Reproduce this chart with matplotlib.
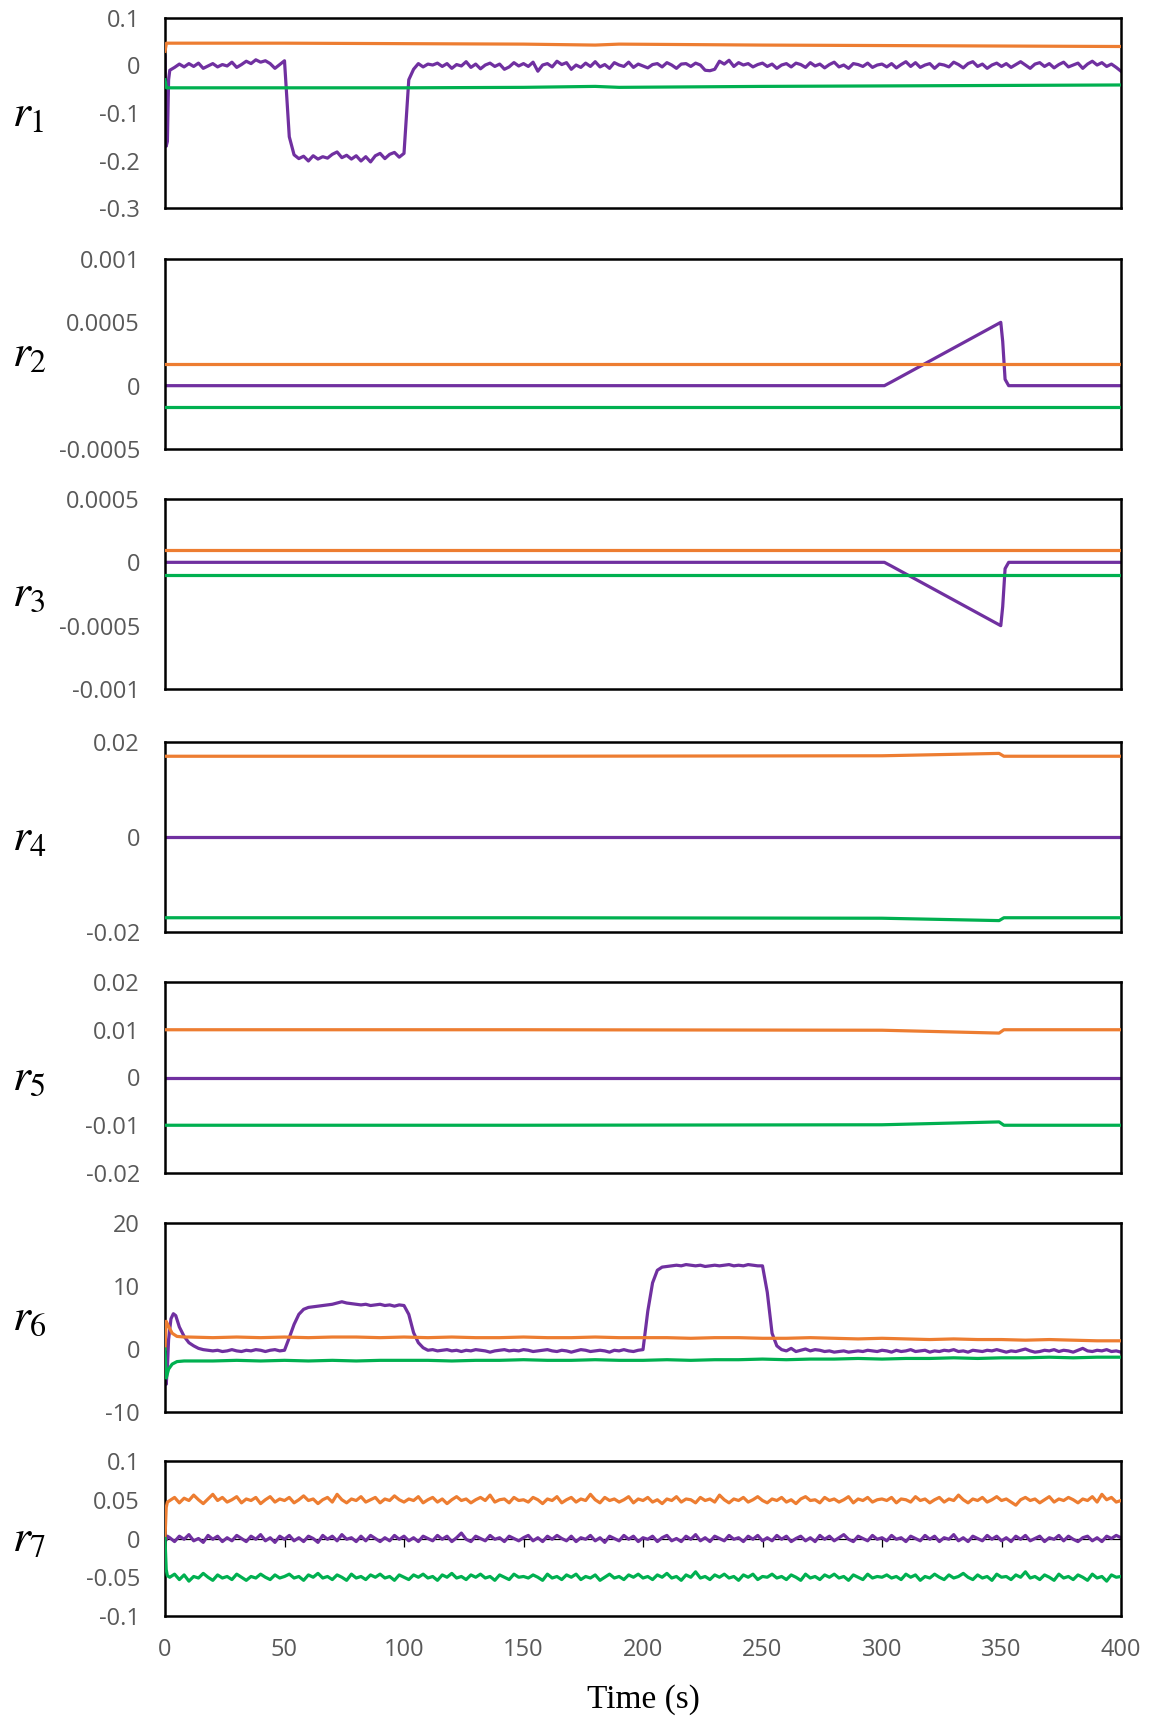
import numpy as np
import matplotlib
matplotlib.use("Agg")
import matplotlib.pyplot as plt

plt.rcParams['mathtext.fontset'] = 'stix'

# ---------------- data ----------------
C_PURPLE = "#7030A0"
C_ORANGE = "#ED7D31"
C_GREEN = "#00B050"

x_ticks = [0, 50, 100, 150, 200, 250, 300, 350, 400]
x_tick_labels = ["0", "50", "100", "150", "200", "250", "300", "350", "400"]
row_labels = [r"$r_1$", r"$r_2$", r"$r_3$", r"$r_4$", r"$r_5$", r"$r_6$", r"$r_7$"]

# r1
r1_purple_t = np.concatenate([[0, 0.5, 1.0, 1.5], np.arange(2, 401, 2)])
r1_purple = [0.02, -0.17, -0.16, -0.03,
    -0.010, -0.004, 0.003, -0.003, 0.004, -0.002, 0.005, -0.006, -0.001, 0.004, -0.003, 0.002, -0.001, 0.007, -0.004, 0.002, 0.009, 0.004, 0.012, 0.007, 0.010, 0.004, -0.006, 0.002, 0.010,
    -0.150, -0.188, -0.196, -0.191, -0.201, -0.190, -0.197, -0.192, -0.195, -0.187, -0.182, -0.194, -0.189, -0.197, -0.190, -0.201, -0.192, -0.203, -0.190, -0.185, -0.196, -0.187, -0.183, -0.193, -0.185,
    -0.030, -0.008, 0.004, -0.003, 0.003, 0.001, 0.005, -0.002, 0.004, -0.006, 0.002, -0.001, 0.008, -0.004, 0.003, -0.007, 0.001, 0.005, -0.002, 0.003, -0.008, -0.003, 0.006, -0.001, 0.004,
    -0.002, 0.007, -0.012, 0.001, 0.004, -0.003, 0.009, 0.002, 0.006, -0.008, 0.001, -0.004, 0.005, -0.002, 0.008, -0.003, 0.002, -0.006, 0.006, 0.001, -0.002, 0.007, -0.004, 0.003, -0.001,
    -0.005, 0.002, 0.004, -0.003, 0.006, 0.001, -0.006, 0.003, 0.004, -0.002, 0.005, 0.001, -0.010, -0.011, -0.008, 0.009, 0.003, 0.011, -0.002, 0.006, 0.001, 0.004, -0.003, 0.002, 0.005,
    -0.002, 0.003, -0.006, 0.001, 0.004, -0.003, 0.005, 0.002, -0.004, 0.006, -0.001, 0.003, -0.005, 0.002, 0.007, -0.003, 0.001, -0.006, 0.004, 0.002, -0.002, 0.005, -0.004, 0.001, 0.003,
    -0.003, 0.004, -0.005, 0.002, 0.008, -0.002, 0.006, -0.004, 0.001, 0.004, -0.006, 0.003, 0.001, -0.003, 0.007, 0.002, -0.005, 0.004, 0.008, -0.002, 0.003, -0.006, 0.001, 0.005, -0.002,
    0.004, -0.004, 0.002, 0.008, 0.001, -0.006, 0.003, 0.006, -0.002, 0.004, -0.005, 0.002, 0.007, -0.003, 0.001, 0.005, -0.006, 0.003, 0.009, 0.001, 0.006, -0.002, 0.003, -0.004, -0.012]
r1_side_t = [0, 0.6, 50, 100, 150, 180, 190, 250, 300, 350, 400]
r1_orange = [0.030, 0.047, 0.047, 0.046, 0.045, 0.043, 0.045, 0.043, 0.042, 0.041, 0.040]
r1_green = [-0.030, -0.047, -0.047, -0.047, -0.046, -0.044, -0.046, -0.044, -0.043, -0.042, -0.041]

# r2 / r3
flat_t = [0, 100, 200, 300, 400]
r2_orange = [0.00017, 0.00017, 0.00017, 0.00017, 0.00017]
r2_green = [-0.00017, -0.00017, -0.00017, -0.00017, -0.00017]
ramp_t = [0, 301, 304, 349.7, 350.5, 351.5, 353, 400]
r2_purple = [0, 0, 0.00003, 0.0005, 0.00035, 0.00005, 0, 0]
r3_orange = [0.0001, 0.0001, 0.0001, 0.0001, 0.0001]
r3_green = [-0.0001, -0.0001, -0.0001, -0.0001, -0.0001]
r3_purple = [0, 0, -0.00003, -0.0005, -0.00035, -0.00005, 0, 0]

# r4 / r5
step_t = [0, 150, 300, 349, 351, 400]
r4_orange = [0.0170, 0.0170, 0.0171, 0.0176, 0.0170, 0.0170]
r4_green = [-0.0170, -0.0170, -0.0171, -0.0176, -0.0170, -0.0170]
r5_orange = [0.0100, 0.0100, 0.0099, 0.0093, 0.0100, 0.0100]
r5_green = [-0.0100, -0.0100, -0.0099, -0.0093, -0.0100, -0.0100]
zero_t = [0, 400]
zero_line = [0, 0]

# r6
r6_side_t = np.concatenate([[0, 0.5, 1.5, 3, 5, 8], np.arange(10, 401, 10)])
r6_orange = [0, 4.4, 3.6, 2.5, 2.0, 1.9,
    1.9, 1.8, 1.9, 1.8, 1.9, 1.8, 1.9, 1.9, 1.8, 1.9,
    1.8, 1.9, 1.8, 1.8, 1.9, 1.8, 1.8, 1.9, 1.8, 1.8,
    1.8, 1.7, 1.8, 1.8, 1.7, 1.7, 1.8, 1.7, 1.6, 1.7,
    1.6, 1.5, 1.6, 1.5, 1.5, 1.4, 1.5, 1.4, 1.3, 1.3]
r6_green = [0, -4.6, -3.2, -2.4, -2.0, -1.9,
    -1.9, -1.9, -1.8, -1.9, -1.8, -1.9, -1.8, -1.9, -1.8, -1.8,
    -1.8, -1.9, -1.8, -1.8, -1.7, -1.8, -1.8, -1.7, -1.8, -1.8,
    -1.7, -1.8, -1.7, -1.7, -1.6, -1.7, -1.6, -1.6, -1.5, -1.6,
    -1.5, -1.5, -1.4, -1.5, -1.4, -1.4, -1.3, -1.4, -1.3, -1.3]
r6_purple_t = np.concatenate([[0, 0.5, 1, 1.5, 2.5, 3.5, 4.5, 6, 8, 10, 12, 14, 16, 18], np.arange(20, 401, 2)])
r6_purple = [0, -5.6, -3.0, 1.5, 4.8, 5.6, 5.3, 3.5, 2.0, 1.0, 0.5, 0.1, -0.1, -0.2,
    -0.3, -0.2, -0.4, -0.3, -0.1, -0.3, -0.4, -0.2, -0.3, -0.1, -0.2, -0.4, -0.2, -0.1, -0.3, -0.2,
    1.8, 3.9, 5.5, 6.3, 6.6, 6.7, 6.8, 6.9, 7.0, 7.1, 7.3, 7.5, 7.3, 7.2, 7.1, 7.0, 7.1, 6.9, 7.0, 7.1, 6.9, 7.0, 6.8, 7.0, 6.9,
    5.5, 2.6, 1.0, 0.2, -0.2, -0.1, -0.3, -0.2, -0.1, -0.3, -0.2, -0.4, -0.2, -0.3, -0.1, -0.2, -0.3, -0.5, -0.3, -0.2, -0.1, -0.3, -0.2, -0.3, -0.1,
    -0.2, -0.4, -0.3, -0.2, -0.1, -0.3, -0.4, -0.2, -0.3, -0.5, -0.3, -0.1, -0.2, -0.4, -0.3, -0.2, -0.3, -0.5, -0.2, -0.3, -0.1, -0.3, -0.4, -0.2, -0.1,
    6.0, 10.5, 12.5, 13.0, 13.1, 13.2, 13.3, 13.2, 13.4, 13.3, 13.2, 13.3, 13.1, 13.2, 13.3, 13.2, 13.3, 13.4, 13.2, 13.3, 13.2, 13.4, 13.3, 13.2, 13.2,
    9.0, 2.5, 0.5, -0.1, -0.3, 0.1, -0.4, -0.2, 0.0, -0.3, -0.1, -0.2, -0.4, -0.3, -0.5, -0.4, -0.3, -0.5, -0.4, -0.3, -0.4, -0.2, -0.3, -0.4, -0.2,
    -0.3, -0.5, -0.2, -0.4, -0.3, -0.1, -0.4, -0.3, -0.2, -0.5, -0.3, -0.4, -0.2, -0.3, -0.1, -0.4, -0.3, -0.5, -0.2, -0.3, -0.4, -0.2, -0.3, -0.1, -0.3,
    -0.5, -0.3, -0.4, -0.2, 0.0, -0.3, -0.5, -0.4, -0.2, -0.3, -0.1, -0.4, -0.2, -0.3, -0.5, -0.2, 0.1, -0.3, -0.4, -0.2, -0.3, -0.1, -0.4, -0.3, -0.5]

# r7
r7_t = np.concatenate([[0, 0.5, 1], np.arange(2, 401, 2)])
r7_orange = [0.0, 0.040, 0.047,
    0.049, 0.053, 0.046, 0.052, 0.049, 0.056, 0.050, 0.045, 0.051, 0.057, 0.049, 0.053, 0.047, 0.050, 0.054, 0.046, 0.051, 0.049, 0.053, 0.045, 0.050, 0.054, 0.047, 0.051, 0.049,
    0.053, 0.046, 0.050, 0.055, 0.049, 0.051, 0.045, 0.050, 0.053, 0.047, 0.057, 0.050, 0.046, 0.051, 0.049, 0.054, 0.047, 0.050, 0.053, 0.046, 0.051, 0.049, 0.055, 0.050, 0.047,
    0.051, 0.049, 0.054, 0.046, 0.050, 0.053, 0.047, 0.051, 0.045, 0.050, 0.054, 0.049, 0.051, 0.046, 0.050, 0.053, 0.049, 0.056, 0.047, 0.050, 0.051, 0.046, 0.053, 0.049, 0.050,
    0.047, 0.053, 0.050, 0.045, 0.051, 0.049, 0.054, 0.046, 0.050, 0.053, 0.047, 0.051, 0.049, 0.057, 0.050, 0.046, 0.053, 0.049, 0.051, 0.047, 0.050, 0.054, 0.046, 0.051, 0.049,
    0.053, 0.047, 0.050, 0.045, 0.051, 0.049, 0.054, 0.047, 0.051, 0.050, 0.046, 0.053, 0.049, 0.051, 0.047, 0.056, 0.050, 0.046, 0.051, 0.049, 0.053, 0.047, 0.050, 0.054, 0.049,
    0.046, 0.051, 0.049, 0.053, 0.047, 0.050, 0.045, 0.051, 0.054, 0.049, 0.050, 0.046, 0.053, 0.049, 0.051, 0.047, 0.050, 0.054, 0.046, 0.051, 0.049, 0.053, 0.047, 0.050, 0.051,
    0.049, 0.053, 0.046, 0.051, 0.050, 0.047, 0.054, 0.049, 0.051, 0.046, 0.050, 0.053, 0.047, 0.051, 0.049, 0.056, 0.050, 0.046, 0.051, 0.049, 0.053, 0.047, 0.050, 0.054, 0.049,
    0.051, 0.047, 0.043, 0.050, 0.053, 0.049, 0.051, 0.046, 0.050, 0.054, 0.047, 0.051, 0.049, 0.053, 0.050, 0.046, 0.051, 0.049, 0.054, 0.047, 0.057, 0.050, 0.053, 0.047, 0.049]
r7_purple = [0.0, -0.002, 0.003,
    0.001, -0.004, 0.003, -0.001, 0.005, -0.003, 0.000, -0.005, 0.004, -0.001, 0.003, -0.004, 0.001, -0.003, 0.004, 0.000, -0.004, 0.003, -0.001, 0.005, -0.003, 0.001, -0.005, 0.003, -0.001,
    0.004, -0.003, 0.001, -0.004, 0.003, 0.000, -0.005, 0.004, -0.001, 0.003, -0.003, 0.005, -0.001, 0.001, -0.004, 0.003, -0.003, 0.004, 0.000, -0.004, 0.001, -0.003, 0.004, -0.001, 0.003,
    -0.003, 0.001, -0.004, 0.003, 0.000, -0.003, 0.004, -0.001, 0.003, -0.004, 0.001, 0.007, -0.001, -0.004, 0.003, 0.000, -0.003, 0.004, -0.001, 0.001, -0.004, 0.003, 0.000, -0.003, 0.001,
    0.004, -0.003, 0.001, -0.004, 0.003, -0.001, 0.004, 0.000, -0.003, 0.003, -0.004, 0.001, -0.001, 0.004, -0.003, 0.001, -0.005, 0.003, 0.000, -0.003, 0.004, -0.001, 0.003, -0.004, 0.001,
    -0.001, 0.003, -0.004, 0.001, 0.004, -0.003, 0.000, -0.004, 0.003, -0.001, 0.005, -0.003, 0.001, -0.004, 0.003, 0.000, -0.003, 0.004, -0.001, 0.001, -0.004, 0.003, -0.001, 0.004, -0.003,
    0.001, -0.003, 0.004, -0.001, 0.003, -0.004, 0.000, 0.003, -0.003, 0.001, -0.004, 0.004, -0.001, 0.003, -0.003, 0.001, 0.005, -0.001, -0.004, 0.003, 0.000, -0.003, 0.004, -0.001, 0.001,
    -0.003, 0.004, -0.001, 0.001, -0.004, 0.003, 0.000, -0.003, 0.004, -0.001, 0.003, -0.004, 0.001, -0.001, 0.005, -0.003, 0.001, -0.004, 0.003, 0.000, -0.003, 0.004, -0.001, 0.003, -0.003,
    0.001, -0.004, 0.003, -0.001, 0.004, -0.003, 0.000, 0.003, -0.004, 0.001, -0.001, 0.004, -0.003, 0.003, -0.001, -0.004, 0.001, 0.003, -0.003, 0.001, -0.004, 0.003, 0.000, 0.004, 0.001]
r7_green = [0.0, -0.040, -0.048,
    -0.050, -0.046, -0.053, -0.047, -0.055, -0.049, -0.051, -0.045, -0.050, -0.054, -0.047, -0.051, -0.049, -0.053, -0.046, -0.050, -0.054, -0.049, -0.051, -0.046, -0.050, -0.053, -0.047, -0.051, -0.049,
    -0.046, -0.051, -0.049, -0.054, -0.047, -0.050, -0.045, -0.051, -0.049, -0.053, -0.047, -0.050, -0.054, -0.046, -0.051, -0.049, -0.053, -0.047, -0.050, -0.046, -0.051, -0.049, -0.054, -0.047, -0.050,
    -0.053, -0.047, -0.050, -0.046, -0.051, -0.049, -0.054, -0.047, -0.050, -0.045, -0.051, -0.049, -0.053, -0.047, -0.050, -0.046, -0.051, -0.049, -0.054, -0.047, -0.050, -0.053, -0.046, -0.050, -0.049,
    -0.051, -0.047, -0.050, -0.054, -0.046, -0.051, -0.049, -0.053, -0.047, -0.050, -0.046, -0.053, -0.049, -0.051, -0.047, -0.054, -0.050, -0.046, -0.051, -0.049, -0.053, -0.047, -0.050, -0.046, -0.051,
    -0.049, -0.053, -0.047, -0.050, -0.045, -0.051, -0.049, -0.054, -0.047, -0.050, -0.043, -0.051, -0.049, -0.053, -0.047, -0.050, -0.046, -0.051, -0.049, -0.054, -0.047, -0.050, -0.046, -0.053, -0.049,
    -0.050, -0.046, -0.051, -0.049, -0.053, -0.047, -0.050, -0.054, -0.046, -0.051, -0.049, -0.053, -0.047, -0.050, -0.046, -0.051, -0.049, -0.054, -0.047, -0.050, -0.053, -0.046, -0.051, -0.049, -0.050,
    -0.047, -0.051, -0.049, -0.053, -0.046, -0.050, -0.047, -0.054, -0.049, -0.051, -0.046, -0.050, -0.053, -0.047, -0.051, -0.049, -0.045, -0.050, -0.053, -0.047, -0.051, -0.049, -0.054, -0.046, -0.050,
    -0.049, -0.053, -0.047, -0.050, -0.043, -0.051, -0.049, -0.053, -0.047, -0.050, -0.054, -0.046, -0.051, -0.049, -0.053, -0.047, -0.050, -0.054, -0.046, -0.051, -0.049, -0.055, -0.047, -0.050, -0.049]

panels = [
    dict(ylim=(-0.3, 0.1), yticks=[-0.3, -0.2, -0.1, 0, 0.1], ylabels=["-0.3", "-0.2", "-0.1", "0", "0.1"],
         purple=(r1_purple_t, r1_purple), orange=(r1_side_t, r1_orange), green=(r1_side_t, r1_green)),
    dict(ylim=(-0.0005, 0.001), yticks=[-0.0005, 0, 0.0005, 0.001], ylabels=["-0.0005", "0", "0.0005", "0.001"],
         purple=(ramp_t, r2_purple), orange=(flat_t, r2_orange), green=(flat_t, r2_green)),
    dict(ylim=(-0.001, 0.0005), yticks=[-0.001, -0.0005, 0, 0.0005], ylabels=["-0.001", "-0.0005", "0", "0.0005"],
         purple=(ramp_t, r3_purple), orange=(flat_t, r3_orange), green=(flat_t, r3_green)),
    dict(ylim=(-0.02, 0.02), yticks=[-0.02, 0, 0.02], ylabels=["-0.02", "0", "0.02"],
         purple=(zero_t, zero_line), orange=(step_t, r4_orange), green=(step_t, r4_green)),
    dict(ylim=(-0.02, 0.02), yticks=[-0.02, -0.01, 0, 0.01, 0.02], ylabels=["-0.02", "-0.01", "0", "0.01", "0.02"],
         purple=(zero_t, zero_line), orange=(step_t, r5_orange), green=(step_t, r5_green)),
    dict(ylim=(-10, 20), yticks=[-10, 0, 10, 20], ylabels=["-10", "0", "10", "20"],
         purple=(r6_purple_t, r6_purple), orange=(r6_side_t, r6_orange), green=(r6_side_t, r6_green)),
    dict(ylim=(-0.1, 0.1), yticks=[-0.1, -0.05, 0, 0.05, 0.1], ylabels=["-0.1", "-0.05", "0", "0.05", "0.1"],
         purple=(r7_t, r7_purple), orange=(r7_t, r7_orange), green=(r7_t, r7_green)),
]

# ---------------- layout ----------------
W, H = 1151, 1720
fig = plt.figure(figsize=(W / 100, H / 100), dpi=100)
fig.patch.set_facecolor("white")

ax_left_px, ax_right_px = 165, 1121
boxes_px = [(18, 208), (259, 449), (499, 689), (742, 932), (982, 1173), (1223, 1412), (1461, 1616)]

tick_font = dict(family=["Open Sans", "DejaVu Sans"], size=17)
GRAY = "#595959"
LW = 2.3

for i, (p, (top, bot)) in enumerate(zip(panels, boxes_px)):
    ax = fig.add_axes([ax_left_px / W, 1 - bot / H, (ax_right_px - ax_left_px) / W, (bot - top) / H])
    if i == 6:
        ax.axhline(0, color="black", lw=0.9, zorder=1)
        ax.vlines(x_ticks, p["ylim"][0] * 0.115, 0, color="black", lw=0.9, zorder=1)
    ax.plot(*p["purple"], color=C_PURPLE, lw=LW, zorder=2)
    ax.plot(*p["orange"], color=C_ORANGE, lw=LW, zorder=3)
    ax.plot(*p["green"], color=C_GREEN, lw=LW, zorder=3)
    ax.set_xlim(0, 400)
    ax.set_ylim(*p["ylim"])
    ax.set_yticks(p["yticks"])
    ax.set_yticklabels(p["ylabels"], fontdict=tick_font, color=GRAY)
    ax.set_xticks(x_ticks)
    if i == 6:
        ax.set_xticklabels(x_tick_labels, fontdict=tick_font, color=GRAY)
    else:
        ax.set_xticklabels([])
    ax.tick_params(axis="both", length=0)
    ax.tick_params(axis="y", pad=18)
    ax.tick_params(axis="x", pad=16)
    for s in ax.spines.values():
        s.set_linewidth(1.8)
        s.set_color("black")
    yc = 1 - (top + bot) / 2 / H
    fig.text(12 / W, yc, row_labels[i], fontsize=33, ha="left", va="center")

fig.text((ax_left_px + ax_right_px) / 2 / W, 1 - 1700 / H, "Time (s)",
         family=["Liberation Serif", "DejaVu Serif"], fontsize=24, ha="center", va="center")

fig.savefig("out.png", dpi=100)
